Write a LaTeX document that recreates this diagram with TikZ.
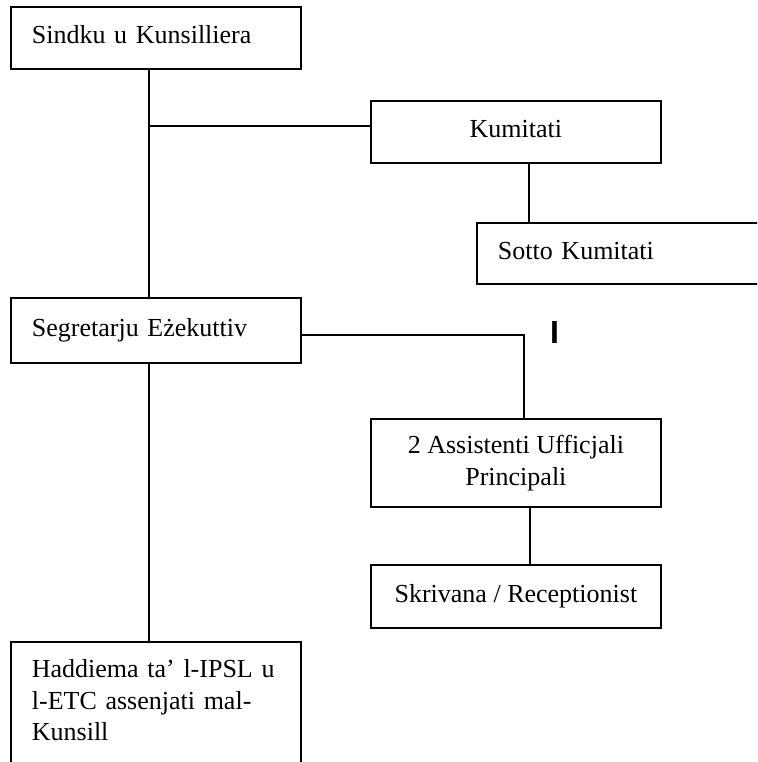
\documentclass[tikz,border=0pt]{standalone}
\usepackage{fontspec}
\setmainfont{Liberation Serif}
\setsansfont{Liberation Sans}

\begin{document}
\begin{tikzpicture}[x=1pt, y=-1pt,
        post/.style={draw, line width=1.8pt, inner xsep=21pt, inner ysep=0pt,
            font=\fontsize{26}{31.5}\selectfont},
        oneline/.style={text height=24pt, text depth=12pt},
        link/.style={line width=1.5pt}]
        \clip (0, 0) rectangle (757, 762);

        \node [post, oneline, anchor=north west, text width=248pt, minimum height=62pt, align=left]
            (sindku) at (10, 6) {Sindku u Kunsilliera};
        \node [post, oneline, anchor=north west, minimum width=290pt, minimum height=62pt, align=center]
            (kumitati) at (370, 100) {Kumitati};
        \node [post, oneline, anchor=north west, text width=300pt, minimum height=61pt, align=left]
            (sotto) at (476, 222) {Sotto Kumitati};
        \node [post, oneline, anchor=north west, text width=248pt, minimum height=65pt, align=left]
            (segretarju) at (10, 297) {Segretarju Eżekuttiv};
        \node [post, anchor=north west, minimum width=290pt, minimum height=88pt, align=center]
            (assistenti) at (370, 418) {2 Assistenti Ufficjali\\Principali};
        \node [post, oneline, anchor=north west, minimum width=290pt, minimum height=63pt, align=center]
            (skrivana) at (370, 564) {Skrivana / Receptionist};
        \node [post, anchor=north west, text width=248pt, text height=36pt, text depth=140pt, align=left]
            (haddiema) at (10, 641) {Haddiema ta’ l-IPSL u\\l-ETC assenjati mal-\\Kunsill};

        \node [font=\sffamily\bfseries\fontsize{32}{32}\selectfont, inner sep=0pt]
            (tick) at (554.5, 332.5) {I};

        \coordinate (tee) at (148, 126);
        \draw [link] ([xshift=-7pt]sindku.south) -- ([xshift=-7pt]segretarju.north);
        \draw [link] (tee) -- (tee -| kumitati.west);
        \draw [link] ([xshift=13pt]kumitati.south) -- ([xshift=13pt]kumitati.south |- sotto.north);
        \draw [link] ([yshift=-4.5pt]segretarju.east) -| ([xshift=8pt]assistenti.north);
        \draw [link] ([xshift=14pt]assistenti.south) -- ([xshift=14pt]assistenti.south |- skrivana.north);
        \draw [link] ([xshift=-7pt]segretarju.south) -- ([xshift=-7pt]haddiema.north);
    \end{tikzpicture}
\end{document}
